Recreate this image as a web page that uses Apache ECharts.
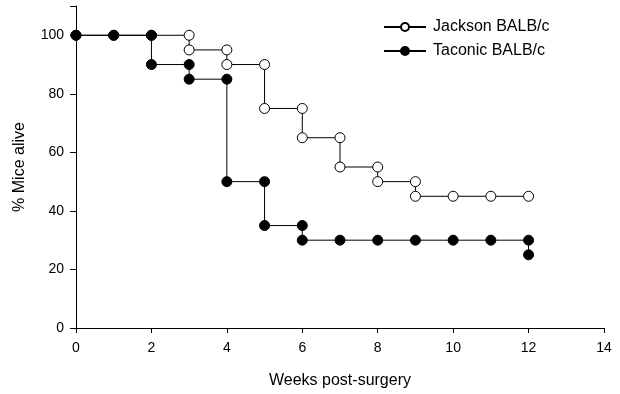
<!DOCTYPE html>
<html><head><meta charset="utf-8">
<script src="https://cdn.jsdelivr.net/npm/echarts@6/dist/echarts.min.js"></script>
<style>html,body{margin:0;padding:0;background:#fff}#c{width:620px;height:394px}</style>
</head><body><div id="c"></div>
<script>
const seriesNames = ['Jackson BALB/c', 'Taconic BALB/c'];
const jacksonWeeks = [0, 1, 2, 3, 3, 4, 4, 5, 5, 6, 6, 7, 7, 8, 8, 9, 9, 10, 11, 12];
const jacksonAlive = [100, 100, 100, 100, 95, 95, 90, 90, 75, 75, 65, 65, 55, 55, 50, 50, 45, 45, 45, 45];
const taconicWeeks = [0, 1, 2, 2, 3, 3, 4, 4, 5, 5, 6, 6, 7, 8, 9, 10, 11, 12, 12];
const taconicAlive = [100, 100, 100, 90, 90, 85, 85, 50, 50, 35, 35, 30, 30, 30, 30, 30, 30, 30, 25];
const xTicks = [0, 2, 4, 6, 8, 10, 12, 14];
const yTicks = [0, 20, 40, 60, 80, 100];

const zip = (a, b) => a.map((v, i) => [v, b[i]]);
const font = 'Liberation Sans, Arial, sans-serif';
const chart = echarts.init(document.getElementById('c'));
chart.setOption({
  animation: false,
  grid: {left: 76, right: 16, top: 6, bottom: 65},
  legend: {
    orient: 'vertical', left: 378, top: 14,
    itemWidth: 42, itemHeight: 10, itemGap: 8,
    textStyle: {fontFamily: font, fontSize: 16, color: '#000', padding: [0, 0, 0, 2]},
    data: seriesNames
  },
  xAxis: {
    type: 'value', min: 0, max: 14, interval: 2,
    name: 'Weeks post-surgery', nameLocation: 'middle', nameGap: 45,
    nameTextStyle: {fontFamily: font, fontSize: 16, color: '#000'},
    axisLine: {lineStyle: {color: '#000', width: 1}},
    axisTick: {show: true, length: 5, inside: false, lineStyle: {color: '#000'}},
    axisLabel: {fontFamily: font, fontSize: 14, color: '#000', margin: 13,
      formatter: v => xTicks.includes(v) ? String(v) : ''},
    splitLine: {show: false}
  },
  yAxis: {
    type: 'value', min: 0, max: 110, interval: 20,
    name: '% Mice alive', nameLocation: 'middle', nameGap: 48,
    nameTextStyle: {fontFamily: font, fontSize: 16, color: '#000'},
    axisLine: {show: true, lineStyle: {color: '#000', width: 1}},
    axisTick: {show: true, length: 6, inside: false, lineStyle: {color: '#000'}},
    axisLabel: {fontFamily: font, fontSize: 14, color: '#000', margin: 12,
      formatter: v => yTicks.includes(v) ? String(v) : ''},
    splitLine: {show: false}
  },
  series: [
    {
      name: seriesNames[0], type: 'line', data: zip(jacksonWeeks, jacksonAlive),
      symbol: 'circle', symbolSize: 10, showAllSymbol: true,
      lineStyle: {color: '#000', width: 1},
      itemStyle: {color: '#fff', borderColor: '#000', borderWidth: 1},
      z: 2
    },
    {
      name: seriesNames[1], type: 'line', data: zip(taconicWeeks, taconicAlive),
      symbol: 'circle', symbolSize: 10, showAllSymbol: true,
      lineStyle: {color: '#000', width: 1},
      itemStyle: {color: '#000', borderColor: '#000', borderWidth: 1},
      z: 3
    }
  ]
});
</script></body></html>
